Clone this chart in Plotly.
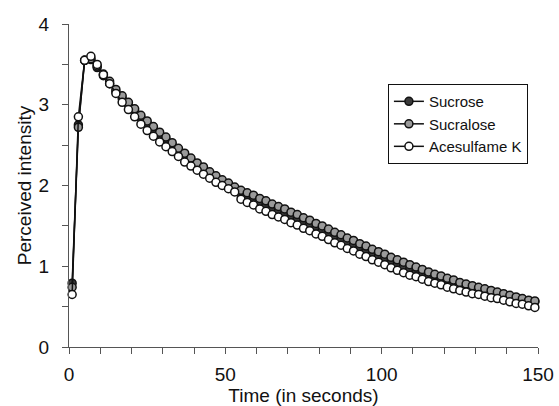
import plotly.graph_objects as go

time_s = [1, 3, 5, 7, 9, 11, 13, 15, 17, 19, 21, 23, 25, 27, 29, 31, 33, 35, 37, 39,
          41, 43, 45, 47, 49, 51, 53, 55, 57, 59, 61, 63, 65, 67, 69, 71, 73, 75, 77, 79,
          81, 83, 85, 87, 89, 91, 93, 95, 97, 99, 101, 103, 105, 107, 109, 111, 113, 115, 117, 119,
          121, 123, 125, 127, 129, 131, 133, 135, 137, 139, 141, 143, 145, 147, 149]

sucrose = [0.79, 2.75, 3.55, 3.56, 3.46, 3.36, 3.26, 3.16, 3.08, 3.00,
           2.92, 2.84, 2.77, 2.70, 2.63, 2.57, 2.50, 2.43, 2.37, 2.31,
           2.25, 2.20, 2.14, 2.09, 2.04, 2.00, 1.95, 1.89, 1.86, 1.83,
           1.79, 1.76, 1.72, 1.69, 1.66, 1.62, 1.59, 1.55, 1.52, 1.48,
           1.45, 1.41, 1.37, 1.34, 1.30, 1.27, 1.23, 1.20, 1.16, 1.13,
           1.10, 1.06, 1.03, 1.00, 0.97, 0.94, 0.91, 0.88, 0.86, 0.84,
           0.81, 0.79, 0.77, 0.75, 0.73, 0.71, 0.69, 0.67, 0.66, 0.64,
           0.62, 0.60, 0.59, 0.57, 0.56]

sucralose = [0.74, 2.72, 3.55, 3.57, 3.48, 3.38, 3.29, 3.19, 3.11, 3.03,
             2.95, 2.87, 2.80, 2.73, 2.66, 2.60, 2.53, 2.46, 2.40, 2.34,
             2.28, 2.23, 2.17, 2.12, 2.07, 2.03, 1.98, 1.94, 1.91, 1.88,
             1.84, 1.81, 1.77, 1.74, 1.71, 1.67, 1.64, 1.60, 1.57, 1.53,
             1.50, 1.46, 1.42, 1.39, 1.35, 1.32, 1.28, 1.25, 1.21, 1.18,
             1.15, 1.11, 1.08, 1.05, 1.02, 0.99, 0.96, 0.93, 0.90, 0.88,
             0.85, 0.83, 0.80, 0.78, 0.76, 0.74, 0.72, 0.70, 0.68, 0.66,
             0.64, 0.62, 0.60, 0.58, 0.57]

acesulfame_k = [0.65, 2.85, 3.55, 3.60, 3.50, 3.37, 3.26, 3.14, 3.03, 2.94,
                2.85, 2.76, 2.68, 2.61, 2.54, 2.48, 2.42, 2.36, 2.29, 2.24,
                2.19, 2.14, 2.09, 2.04, 2.00, 1.96, 1.92, 1.83, 1.79, 1.76,
                1.71, 1.68, 1.64, 1.61, 1.58, 1.54, 1.51, 1.47, 1.44, 1.40,
                1.37, 1.33, 1.29, 1.26, 1.22, 1.19, 1.15, 1.12, 1.08, 1.05,
                1.02, 0.98, 0.95, 0.92, 0.89, 0.87, 0.84, 0.81, 0.79, 0.77,
                0.74, 0.72, 0.70, 0.68, 0.66, 0.65, 0.63, 0.61, 0.60, 0.58,
                0.56, 0.54, 0.53, 0.51, 0.49]

series = [("Sucrose", sucrose, "#3a3a3a"),
          ("Sucralose", sucralose, "#9a9a9a"),
          ("Acesulfame K", acesulfame_k, "#ffffff")]

fig = go.Figure()
for name, vals, fill in series:
    fig.add_trace(go.Scatter(
        x=time_s, y=vals, name=name, mode="lines+markers",
        line=dict(color="#111111", width=1.5),
        marker=dict(symbol="circle", size=8, color=fill,
                    line=dict(color="#111111", width=1.5)),
        cliponaxis=False,
    ))

font_family = "Liberation Sans, Arial, sans-serif"
axis_col = "#555555"

fig.update_layout(
    width=559, height=406,
    margin=dict(l=69, r=21, t=24, b=59),
    paper_bgcolor="white", plot_bgcolor="white",
    font=dict(family=font_family, color="#111111"),
    showlegend=True,
    legend=dict(x=0.68, y=0.814, xanchor="left", yanchor="top",
                bgcolor="white", bordercolor="#111111", borderwidth=1,
                font=dict(size=15, family=font_family, color="#111111"),
                tracegroupgap=0),
    xaxis=dict(range=[0, 150], tickvals=[0, 50, 100, 150], automargin=False,
               ticks="outside", ticklen=6, tickcolor=axis_col, ticklabelstandoff=4,
               showline=True, linecolor=axis_col, linewidth=1,
               showgrid=False, zeroline=False,
               tickfont=dict(size=19),
               minor=dict(dtick=10, ticks="outside", ticklen=6, tickcolor=axis_col, showgrid=False),
               title=dict(text="Time (in seconds)", font=dict(size=19), standoff=0)),
    yaxis=dict(range=[0, 4], tickvals=[0, 1, 2, 3, 4], automargin=False,
               ticks="outside", ticklen=6, tickcolor=axis_col, ticklabelstandoff=9,
               showline=True, linecolor=axis_col, linewidth=1,
               showgrid=False, zeroline=False,
               tickfont=dict(size=19),
               minor=dict(dtick=0.5, ticks="outside", ticklen=6, tickcolor=axis_col, showgrid=False),
               title=dict(text="Perceived intensity", font=dict(size=19), standoff=1)),
)

fig.write_html(
    "out.html",
    config={"displayModeBar": False},
    post_script="document.body.style.margin='0';document.body.style.overflow='hidden';",
)
